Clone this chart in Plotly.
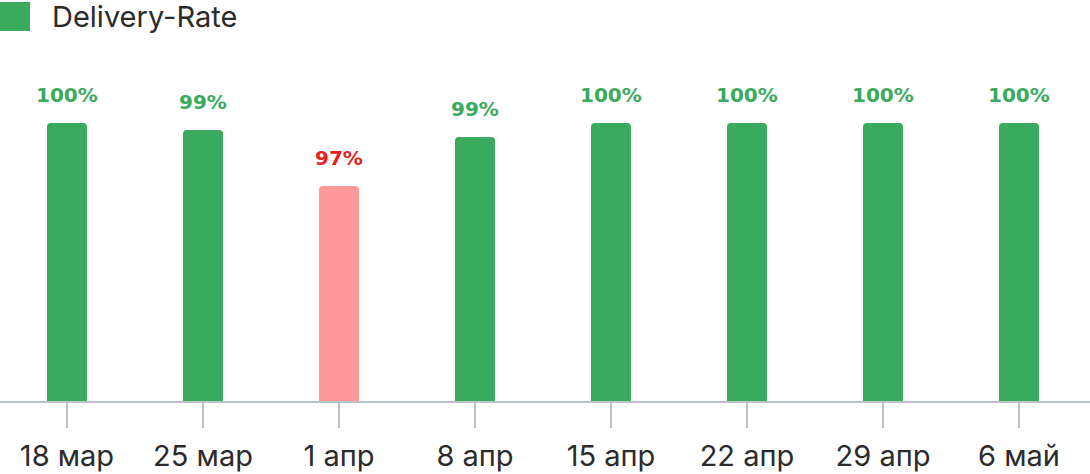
import plotly.graph_objects as go

# data
weeks = ["18 мар", "25 мар", "1 апр", "8 апр", "15 апр", "22 апр", "29 апр", "6 май"]
delivery_rate = [100, 99.67, 97, 99.33, 100, 100, 100, 100]
rate_labels = ["100%", "99%", "97%", "99%", "100%", "100%", "100%", "100%"]
is_low = [False, False, True, False, False, False, False, False]

GREEN = "#3aaa5e"
PINK = "#ff9a9a"
RED = "#e3211f"

bar_colors = [PINK if low else GREEN for low in is_low]

fig = go.Figure()

fig.add_trace(
    go.Bar(
        x=weeks,
        y=delivery_rate,
        name="Delivery-Rate",
        marker=dict(color=bar_colors, cornerradius=4, line=dict(width=0)),
        width=0.294,
        hoverinfo="skip",
    )
)

# value labels above each bar
for week, rate, label, low in zip(weeks, delivery_rate, rate_labels, is_low):
    fig.add_annotation(
        x=week,
        y=rate,
        text=label,
        showarrow=False,
        yanchor="bottom",
        yshift=14,
        font=dict(family="DejaVu Sans", size=20, color=RED if low else GREEN, weight=600),
    )

# legend drawn by hand (plotly's bar swatch is too small)
fig.add_shape(
    type="rect", xref="paper", yref="paper",
    x0=0, x1=30 / 1090, y0=1 + 60 / 341 - 31 / 341, y1=1 + 60 / 341 - 2 / 341,
    fillcolor=GREEN, line=dict(width=0), layer="above",
)
fig.add_annotation(
    xref="paper", yref="paper", x=50 / 1090, y=1 + 60 / 341 - 17 / 341,
    xanchor="left", yanchor="middle", text="Delivery-Rate", showarrow=False,
    font=dict(family="Inter", size=29, color="#2b2b2b"),
)

fig.update_layout(
    width=1090,
    height=474,
    margin=dict(l=0, r=0, t=60, b=73, autoexpand=False),
    paper_bgcolor="white",
    plot_bgcolor="white",
    showlegend=False,
    bargap=0.7,
)

fig.update_xaxes(
    type="category",
    range=[-0.4926, 7.522],
    automargin=False,
    showline=True,
    linecolor="#bcc2ca",
    linewidth=2,
    ticks="outside",
    ticklen=25,
    tickwidth=2,
    tickcolor="#bcc2ca",
    ticklabelstandoff=3,
    tickfont=dict(family="Inter", size=29, color="#2b2b2b"),
    showgrid=False,
    zeroline=False,
)
fig.update_yaxes(
    range=[86.76, 103.0],
    visible=False,
    automargin=False,
    showgrid=False,
    zeroline=False,
)

fig.write_html(
    "out.html",
    config={"displayModeBar": False},
    post_script="document.body.style.margin='0';document.body.style.overflow='hidden';",
)
